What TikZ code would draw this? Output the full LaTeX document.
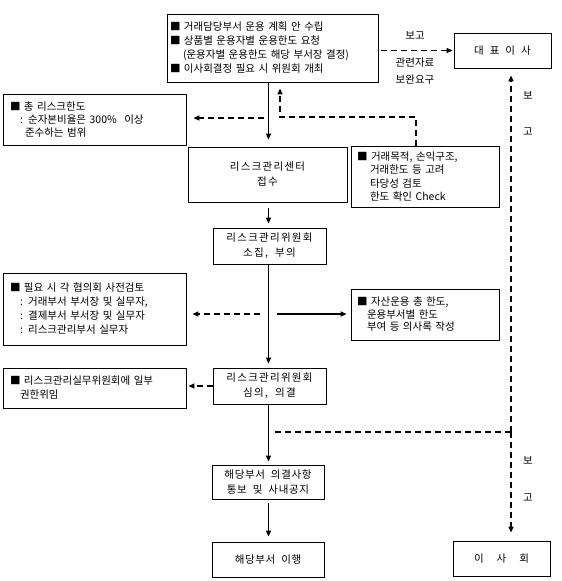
\documentclass[tikz,border=0pt]{standalone}
\usepackage{fontspec}
\setmainfont[WordSpace=2]{Noto Sans CJK KR}
\newfontfamily\trk[LetterSpace=12,WordSpace=2]{Noto Sans CJK KR}
\newfontfamily\trkb[LetterSpace=6,WordSpace=2]{Noto Sans CJK KR}
\usetikzlibrary{arrows.meta}
\begin{document}
\begin{tikzpicture}[x=1pt,y=-1pt,
  box/.style={draw, line width=0.8pt, inner ysep=0pt, inner xsep=0pt, font=\fontsize{10.5}{14}\selectfont},
  lbox/.style={box, align=left},
  cbox/.style={box, align=center, font=\fontsize{10.5}{15}\selectfont},
  lbl/.style={inner sep=0pt, font=\fontsize{10.5}{17}\selectfont, align=center},
  arr/.style={line width=1.4pt, -{Triangle[length=6pt,width=5pt]}},
  darr/.style={line width=1.3pt, dash pattern=on 6pt off 4pt, -{Triangle[length=6pt,width=5pt]}},
  dline/.style={line width=1.3pt, dash pattern=on 6pt off 4pt}]
\useasboundingbox (0,0) rectangle (562,581);
\fill[white] (0,0) rectangle (562,581);

% boxes
\node[lbox, minimum width=211pt, minimum height=68pt, text width=205pt, inner xsep=3pt] (top) at (272.5,48)
 {■ 거래담당부서 운용 계획 안 수립\\
  ■ 상품별 운용자별 운용한도 요청\\
  \hspace*{13pt}(운용자별 운용한도 해당 부서장 결정)\\
  ■ 이사회결정 필요 시 위원회 개최};
\node[cbox, minimum width=97pt, minimum height=35pt] (ceo) at (502.5,50.5)
 {대\hspace{6pt}표\hspace{6pt}이\hspace{6pt}사};
\node[lbox, minimum width=183pt, minimum height=51pt, text width=169pt, inner xsep=7pt, font=\fontsize{10.5}{13}\selectfont] (left1) at (94.5,119.5)
 {■ 총 리스크한도\\
  \hspace*{10pt}: 순자본비율은 300\%\hspace{4pt} 이상\\
  \hspace*{15pt}준수하는 범위};
\node[cbox, minimum width=159pt, minimum height=55pt] (rc) at (267.5,174.5)
 {\trk 리스크관리센터\\\trk 접수};
\node[lbox, minimum width=148pt, minimum height=61pt, text width=136pt, inner xsep=6pt, font=\fontsize{10.5}{13.3}\selectfont] (right1) at (425,176.5)
 {■ 거래목적, 손익구조,\\
  \hspace*{13pt}거래한도 등 고려\\
  \hspace*{13pt}타당성 검토\\
  \hspace*{13pt}한도 확인 Check};
\node[cbox, minimum width=113pt, minimum height=36pt] (comm1) at (269.5,246)
 {\trk 리스크관리위원회\\\trk 소집, 부의};
\node[lbox, minimum width=183pt, minimum height=72pt, text width=169pt, inner xsep=7pt] (left2) at (94.5,309)
 {■ 필요 시 각 협의회 사전검토\\
  \hspace*{10pt}: 거래부서 부서장 및 실무자,\\
  \hspace*{10pt}: 결제부서 부서장 및 실무자\\
  \hspace*{10pt}: 리스크관리부서 실무자};
\node[lbox, minimum width=148pt, minimum height=51pt, text width=136pt, inner xsep=6pt, font=\fontsize{10.5}{12.5}\selectfont] (right2) at (425,314.5)
 {■ 자산운용 총 한도,\\
  \hspace*{10pt}운용부서별 한도\\
  \hspace*{10pt}부여 등 의사록 작성};
\node[cbox, minimum width=113pt, minimum height=36pt] (comm2) at (269.5,386)
 {\trk 리스크관리위원회\\\trk 심의, 의결};
\node[lbox, minimum width=183pt, minimum height=40pt, text width=169pt, inner xsep=7pt] (left3) at (94.5,388)
 {■ 리스크관리실무위원회에 일부\\
  \hspace*{10pt}권한위임};
\node[cbox, minimum width=112pt, minimum height=34pt] (notify) at (268,482)
 {\trkb 해당부서 의결사항\\\trkb 통보 및 사내공지};
\node[cbox, minimum width=112pt, minimum height=35pt] (exec) at (268,559.5)
 {\trkb 해당부서 이행};
\node[cbox, minimum width=97pt, minimum height=35pt] (board) at (501.5,558.5)
 {이\hspace{13pt}사\hspace{13pt}회};

% labels
\node[lbl] (rep1) at (415,35) {보고};
\node[lbl] (req) at (415,71.5) {관련자료\\보완요구};
\node[lbl] (bo1) at (528,95) {보};
\node[lbl] (go1) at (528,132) {고};
\node[lbl] (bo2) at (528,460) {보};
\node[lbl] (go2) at (528,498) {고};

% coordinates
\coordinate (mx) at (268.5,0);
\coordinate (r1) at (416,117);
\coordinate (r2) at (280,117);
\coordinate (l1) at (264,118);
\coordinate (l2) at (260,314);
\coordinate (r3) at (277,314);
\coordinate (h1) at (275,432);
\coordinate (h2) at (511,432);

% solid main flow
\draw[arr, shorten >=7pt] (top.south -| mx) -- (rc.north -| mx);
\draw[arr, shorten <=6pt, shorten >=4pt] (rc.south -| mx) -- (comm1.north -| mx);
\draw[arr, shorten >=4pt] (comm1.south -| mx) -- (comm2.north -| mx);
\draw[arr, shorten >=3pt] (comm2.south -| mx) -- (notify.north -| mx);
\draw[arr, shorten <=4pt, shorten >=5pt] (notify.south -| mx) -- (exec.north -| mx);
\draw[arr, shorten >=4pt] (r3) -- (right2.west |- r3);

% dashed
\draw[darr, shorten <=3pt, shorten >=1pt] (ceo.west -| top.east) -- (ceo.west);
\draw[darr, shorten >=6pt] (right1.north -| r1) -- (r1) -- (r2) -- (top.south -| r2);
\draw[darr, shorten >=7pt] (l1) -- (left1.east |- l1);
\draw[darr, shorten >=6pt] (l2) -- (left2.east |- l2);
\draw[darr, shorten >=2pt] (comm2.west) -- (left3.east |- comm2.west);
\draw[dline] (h1) -- (h2);
\draw[darr, shorten >=7pt] (h2) -- (ceo.south -| h2);
\draw[darr, shorten >=8pt] (h2) -- (board.north -| h2);
\end{tikzpicture}
\end{document}
